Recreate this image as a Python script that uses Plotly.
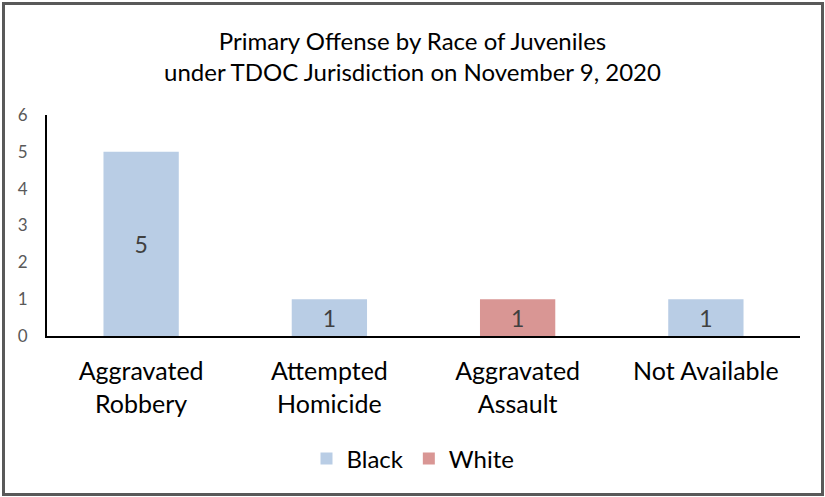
import plotly.graph_objects as go

categories = ["Aggravated<br>Robbery", "Attempted<br>Homicide", "Aggravated<br>Assault", "Not Available"]
black_values = [5, 1, None, 1]
white_values = [None, None, 1, None]
y_ticks = [0, 1, 2, 3, 4, 5, 6]

W, H = 825, 497
L, R, T, B = 47, 25, 115, 161
pw, ph = W - L - R, H - T - B

FONT = "Lato"

fig = go.Figure()
fig.add_trace(go.Bar(
    name="Black", x=categories, y=black_values,
    marker=dict(color="#B9CDE5", line=dict(width=0)),
    text=[str(v) if v is not None else "" for v in black_values],
    textposition="inside", insidetextanchor="middle",
    textfont=dict(family=FONT, size=23, color="#404040"),
))
fig.add_trace(go.Bar(
    name="White", x=categories, y=white_values,
    marker=dict(color="#D99694", line=dict(width=0)),
    text=[str(v) if v is not None else "" for v in white_values],
    textposition="inside", insidetextanchor="middle",
    textfont=dict(family=FONT, size=23, color="#404040"),
))

# outer frame in paper coordinates
def px_x(p):
    return (p - L) / pw

def px_y(p):
    return (H - B - p) / ph

fig.add_shape(type="rect", xref="paper", yref="paper",
              x0=px_x(3.5), x1=px_x(822.5), y0=px_y(494.5), y1=px_y(3.5),
              line=dict(color="#595959", width=3), layer="above")

fig.update_layout(
    width=W, height=H,
    margin=dict(l=L, r=R, t=T, b=B, autoexpand=False),
    paper_bgcolor="white", plot_bgcolor="white",
    barmode="relative", bargap=0.6,
    title=dict(
        text="Primary Offense by Race of Juveniles<br>under TDOC Jurisdiction on November 9, 2020",
        x=0.5, xanchor="center", y=1 - 50 / H, yanchor="middle",
        font=dict(family=FONT, size=24, color="#000000"),
    ),
    font=dict(family=FONT),
    showlegend=True,
    legend=dict(
        orientation="h", x=px_x(413), xanchor="center", y=px_y(459), yanchor="middle",
        font=dict(family=FONT, size=24, color="#000000"),
        itemwidth=30, traceorder="normal",
    ),
    uniformtext=dict(mode="show", minsize=10),
)
fig.update_xaxes(
    showline=True, linecolor="#000000", linewidth=2, ticks="",
    showgrid=False, tickfont=dict(family=FONT, size=25, color="#000000"),
    ticklabelstandoff=12,
)
fig.update_yaxes(
    range=[0, 6], tickvals=y_ticks, showline=True, linecolor="#000000", linewidth=2,
    showgrid=False, zeroline=False, ticks="",
    tickfont=dict(family=FONT, size=17, color="#595959"),
    ticklabelstandoff=14,
)

fig.write_html("out.html", config={"displayModeBar": False},
               post_script="document.body.style.margin='0px';document.body.style.overflow='hidden';")
